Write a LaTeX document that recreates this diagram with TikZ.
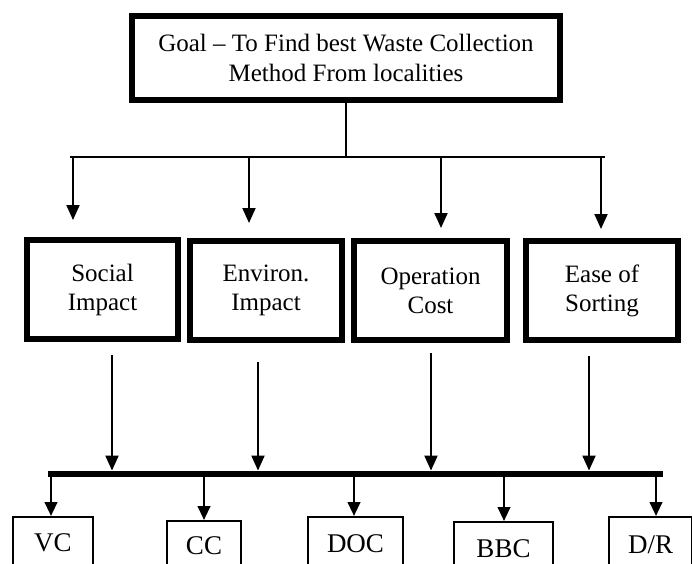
\documentclass[tikz,border=0pt]{standalone}
\usepackage{fontspec}
\setmainfont{Liberation Serif}
\usetikzlibrary{arrows.meta}
\begin{document}
\begin{tikzpicture}[x=1pt,y=-1pt,
  goalbox/.style={draw, line width=6pt, align=center, inner sep=0pt,
    minimum width=428pt, minimum height=84pt, font=\fontsize{25}{30}\selectfont},
  critbox/.style={draw, line width=6pt, align=center, inner sep=0pt,
    minimum height=99pt, font=\fontsize{25}{29}\selectfont},
  altbox/.style={draw, line width=2pt, inner sep=0pt, font=\fontsize{27}{32}\selectfont},
  thinline/.style={line width=2pt},
  arr/.style={line width=2pt, -{Triangle[length=15pt,width=13pt]}},
  barr/.style={line width=2.5pt, -{Triangle[length=14pt,width=12.5pt]}}]
\path[use as bounding box, clip] (0,0) rectangle (692,563);
\fill[white] (0,0) rectangle (692,563);

% goal
\node[goalbox] (goal) at (346,58) {Goal -- To Find best Waste Collection\\Method From localities};

% criteria
\node[critbox, minimum width=151pt] (s1) at (102.5,289.5) {Social\\Impact};
\node[critbox, minimum width=152pt] (s2) at (266,290.5) {Environ.\\Impact};
\node[critbox, minimum width=153pt] (s3) at (430.5,290.5) {Operation\\Cost};
\node[critbox, minimum width=152pt] (s4) at (602,290.5) {Ease of\\Sorting};

% alternatives
\node[altbox, minimum width=80pt, minimum height=52pt] (vc) at (53,543) {VC};
\node[altbox, minimum width=74pt, minimum height=50pt] (cc) at (204,546) {CC};
\node[altbox, minimum width=95pt, minimum height=53pt] (doc) at (355.5,543.5) {DOC};
\node[altbox, minimum width=99pt, minimum height=53pt] (bbc) at (503.5,548.5) {BBC};
\node[altbox, minimum width=83pt, minimum height=56pt] (dr) at (650.5,545) {D/R};

% bar
\node[fill=black, inner sep=0pt, minimum width=615pt, minimum height=6.5pt] (bar) at (355.5,474) {};

% top distribution
\coordinate (hub) at (346,157);
\coordinate (hl) at (70,157);
\coordinate (hr) at (605,157);
\draw[thinline] (goal.south) -- (hub);
\draw[thinline] (hl) -- (hr);
\coordinate (t1) at (73,157);  \coordinate (t1e) at (73,220);
\coordinate (t2) at (249,157); \coordinate (t2e) at (249,223);
\coordinate (t3) at (441,157); \coordinate (t3e) at (441,228);
\coordinate (t4) at (601,157); \coordinate (t4e) at (601,229);
\draw[arr] (t1) -- (t1e);
\draw[arr] (t2) -- (t2e);
\draw[arr] (t3) -- (t3e);
\draw[arr] (t4) -- (t4e);

% criteria to bar
\coordinate (a1) at (112,355);
\coordinate (a2) at (258,362);
\coordinate (a3) at (431,353);
\coordinate (a4) at (589,356);
\draw[arr] (a1) -- (a1 |- bar.north);
\draw[arr] (a2) -- (a2 |- bar.north);
\draw[arr] (a3) -- (a3 |- bar.north);
\draw[arr] (a4) -- (a4 |- bar.north);

% bar to alternatives
\coordinate (b1) at (51,474);
\coordinate (b2) at (204,474);
\coordinate (b3) at (354,474);
\coordinate (b4) at (504,474);
\coordinate (b5) at (656,474);
\draw[barr] (b1) -- (b1 |- vc.north);
\draw[barr] (b2) -- (b2 |- cc.north);
\draw[barr] (b3) -- (b3 |- doc.north);
\draw[barr] (b4) -- (b4 |- bbc.north);
\draw[barr] (b5) -- (b5 |- dr.north);
\end{tikzpicture}
\end{document}
